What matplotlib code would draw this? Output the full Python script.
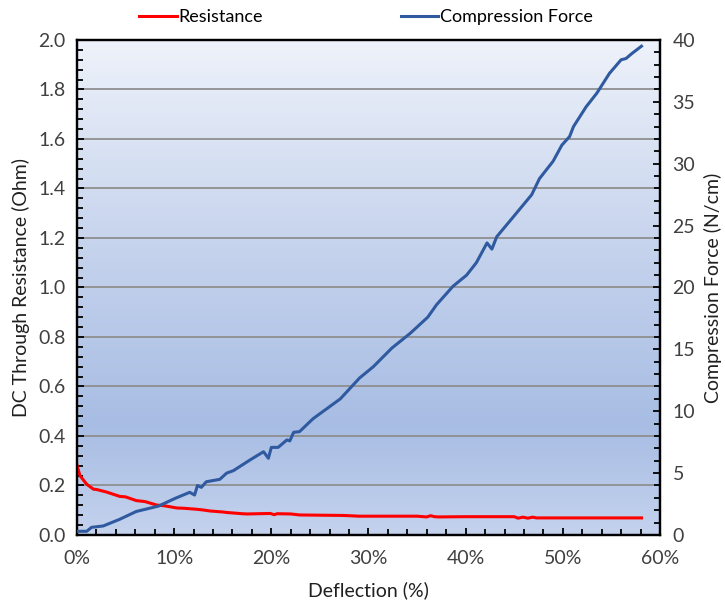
import numpy as np
import matplotlib.pyplot as plt
from matplotlib.colors import LinearSegmentedColormap
from matplotlib.ticker import MultipleLocator, FuncFormatter

plt.rcParams["font.family"] = ["Lato", "DejaVu Sans"]

# Resistance curve (left axis, Ohm) vs deflection (%)
res_defl = [0.0, 0.3, 0.6, 1.0, 1.7, 2.0, 3.0, 4.4, 5.0, 6.1, 7.0, 8.2, 9.0, 10.3, 11.0,
            12.3, 13.0, 13.7, 15.0, 15.4, 17.0, 17.5, 19.9, 20.3, 20.6, 22.0, 22.9, 25.0,
            27.4, 28.0, 29.0, 35.0, 36.0, 36.4, 36.8, 37.2, 40.0, 45.0, 45.4, 45.9, 46.4,
            46.9, 47.3, 50.0, 55.0, 58.1]
res_ohm = [0.281, 0.24, 0.225, 0.205, 0.185, 0.184, 0.174, 0.156, 0.154, 0.139, 0.135,
           0.121, 0.118, 0.109, 0.108, 0.104, 0.101, 0.097, 0.093, 0.091, 0.086, 0.085,
           0.087, 0.082, 0.086, 0.085, 0.081, 0.080, 0.079, 0.078, 0.076, 0.076, 0.073,
           0.078, 0.074, 0.073, 0.074, 0.074, 0.068, 0.072, 0.068, 0.072, 0.069, 0.069,
           0.069, 0.069]

# Compression force curve (right axis, N/cm) vs deflection (%)
force_defl = [0.0, 1.0, 1.5, 2.7, 4.4, 6.1, 8.4, 10.1, 11.6, 12.1, 12.4, 12.8, 13.3, 14.7,
              15.4, 16.1, 17.8, 19.2, 19.7, 20.0, 20.7, 21.6, 21.9, 22.3, 22.9, 24.3, 25.7,
              27.1, 29.1, 30.5, 32.4, 34.3, 36.1, 37.0, 38.7, 40.1, 41.1, 42.2, 42.7, 43.2,
              44.9, 46.8, 47.6, 49.0, 49.9, 50.7, 51.1, 52.4, 53.5, 54.8, 56.0, 56.5, 57.1,
              57.6, 58.1]
force_ncm = [0.30, 0.30, 0.62, 0.73, 1.27, 1.90, 2.34, 2.96, 3.45, 3.23, 4.00, 3.85, 4.30,
             4.50, 5.00, 5.20, 6.06, 6.73, 6.20, 7.08, 7.08, 7.68, 7.60, 8.30, 8.35, 9.40,
             10.2, 11.0, 12.7, 13.6, 15.1, 16.3, 17.6, 18.6, 20.1, 21.0, 22.0, 23.6, 23.1,
             24.1, 25.7, 27.5, 28.8, 30.2, 31.5, 32.2, 33.0, 34.6, 35.7, 37.3, 38.4, 38.5,
             38.9, 39.2, 39.5]

RED = "#ff0000"
BLUE = "#2f5aa0"

fig = plt.figure(figsize=(7.25, 6.02), dpi=100)
ax = fig.add_axes([0.1062, 0.1113, 0.8041, 0.8223])

# gradient background
bg = LinearSegmentedColormap.from_list(
    "bg", [(0.0, "#c4d2ed"), (0.22, "#a8bde4"), (0.55, "#c3d1ec"), (1.0, "#eef2fa")])
grad = np.linspace(0, 1, 256).reshape(-1, 1)
ax.imshow(grad, cmap=bg, aspect="auto", origin="lower",
          extent=[0, 60, 0, 2.0], zorder=0)

for yv in np.arange(0.2, 2.0, 0.2):
    ax.axhline(yv, color="#8f8f8f", lw=1.3, zorder=1)

l1, = ax.plot(res_defl, res_ohm, color=RED, lw=2.2, zorder=3, label="Resistance")
ax.set_xlim(0, 60)
ax.set_ylim(0, 2.0)
ax.xaxis.set_major_locator(MultipleLocator(10))
ax.xaxis.set_minor_locator(MultipleLocator(2))
ax.xaxis.set_major_formatter(FuncFormatter(lambda v, p: f"{v:.0f}%"))
ax.yaxis.set_major_locator(MultipleLocator(0.2))
ax.yaxis.set_minor_locator(MultipleLocator(0.04))
ax.yaxis.set_major_formatter(FuncFormatter(lambda v, p: f"{v:.1f}"))

ax2 = ax.twinx()
l2, = ax2.plot(force_defl, force_ncm, color=BLUE, lw=2.2, zorder=3, label="Compression Force")
ax2.set_ylim(0, 40)
ax2.yaxis.set_major_locator(MultipleLocator(5))
ax2.yaxis.set_minor_locator(MultipleLocator(1))

for a in (ax, ax2):
    for s in a.spines.values():
        s.set_linewidth(1.6)
        s.set_color("black")
    a.tick_params(which="both", direction="in", colors="black", labelcolor="#404040",
                  labelsize=14, width=1.3)
    a.tick_params(which="major", length=5, pad=9)
    a.tick_params(which="minor", length=4)

ax.tick_params(axis="x", pad=11)
ax.tick_params(axis="y", pad=8)
ax.set_xlabel("Deflection (%)", fontsize=14, color="#202020", labelpad=10)
ax.set_ylabel("DC Through Resistance (Ohm)", fontsize=14, color="#202020", labelpad=6)
ax2.set_ylabel("Compression Force (N/cm)", fontsize=14, color="#202020", labelpad=6)

fig.legend(handles=[l1, l2], loc="center", bbox_to_anchor=(0.505, 0.972), ncol=2,
           frameon=False, fontsize=13, handlelength=2.1, handletextpad=0.1,
           columnspacing=7.6)

fig.savefig("out.png", dpi=100)
